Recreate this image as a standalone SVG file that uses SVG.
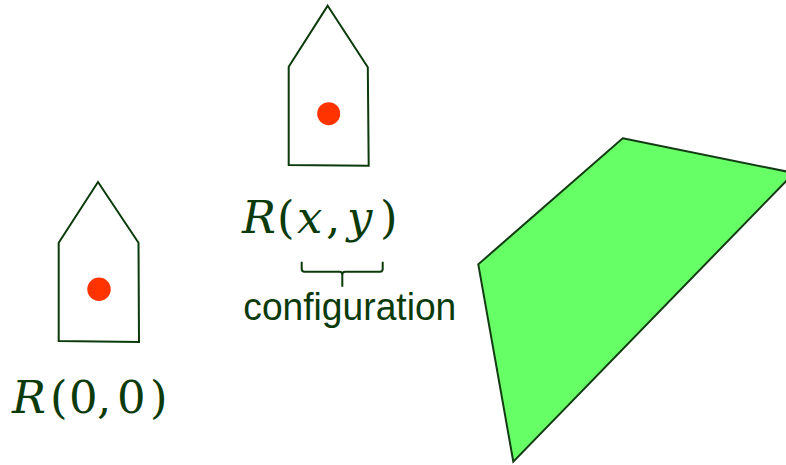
<svg xmlns="http://www.w3.org/2000/svg" width="786" height="465" viewBox="0 0 786 465">
<style>
.robot{fill:#fff;stroke:#0b3a0b;stroke-width:2;stroke-linejoin:miter}
.dot{fill:#ff3300}
.math{font-family:"DejaVu Serif","Liberation Serif",serif;font-size:45px;fill:#0b3a0b}
.it{font-style:italic}
.lbl{font-family:"Liberation Sans",Arial,sans-serif;font-size:38px;fill:#0b3a0b}
</style>
<rect width="786" height="465" fill="#fff"/>
<g id="obstacle">
<polygon points="622.7,138.3 794,173 513.3,461.7 478.3,264.3" fill="#66ff66" stroke="#143c14" stroke-width="2"/>
</g>
<g id="robot-origin">
<polygon class="robot" points="98,182 138.5,242.7 139,342 58.7,341 58.7,242.7"/>
<circle class="dot" cx="99" cy="289.3" r="11.7"/>
<text class="math" y="413"><tspan class="it" x="12">R</tspan><tspan x="50">(</tspan><tspan x="69">0</tspan><tspan x="97">,</tspan><tspan x="117">0</tspan><tspan x="150">)</tspan></text>
</g>
<g id="robot-config">
<polygon class="robot" points="327.7,5.7 367.8,67.3 368.7,165.7 288.7,165 288.7,66.7"/>
<circle class="dot" cx="328.7" cy="113.7" r="11.5"/>
<text class="math" y="233"><tspan class="it" x="242">R</tspan><tspan x="277">(</tspan><tspan class="it" x="297">x</tspan><tspan x="326">,</tspan><tspan class="it" x="347">y</tspan><tspan x="380">)</tspan></text>
</g>
<g id="connectors">
<path d="M301.7,261.7 V269 Q301.7,271.7 304.5,271.7 H339.5 Q342.3,271.7 342.3,275 V286.7 M342.3,275 Q342.3,271.7 345.1,271.7 H380 Q382.7,271.7 382.7,269 V261.7" fill="none" stroke="#0b3a0b" stroke-width="2"/>
</g>
<g id="label">
<text class="lbl" x="243.3" y="320" textLength="213" lengthAdjust="spacingAndGlyphs">configuration</text>
</g>
</svg>
